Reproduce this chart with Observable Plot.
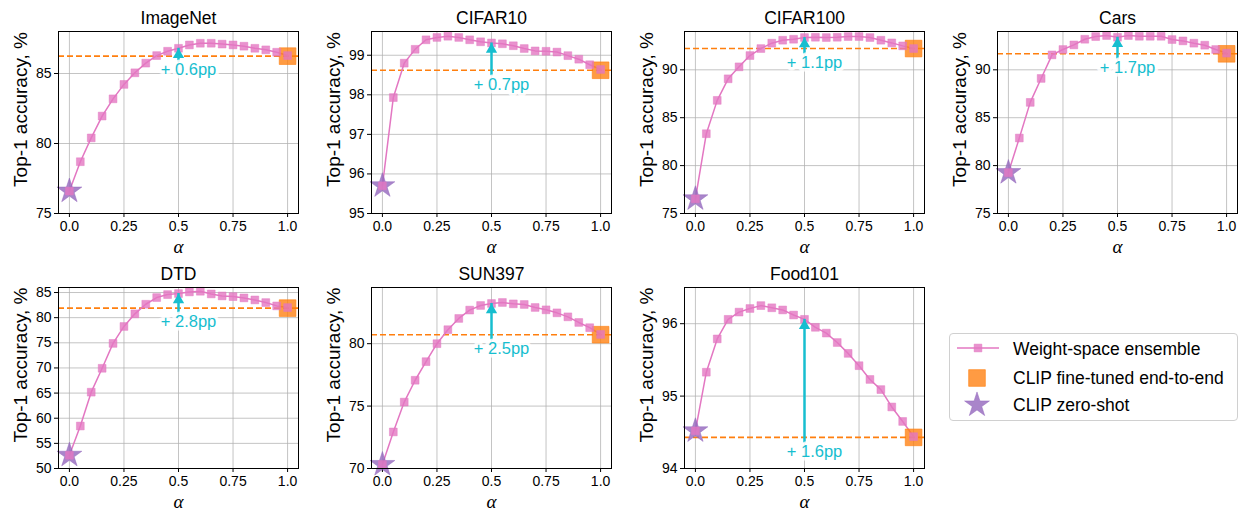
<!DOCTYPE html>
<html>
<head>
<meta charset="utf-8">
<script src="https://cdn.jsdelivr.net/npm/d3@7"></script>
<script src="https://cdn.jsdelivr.net/npm/@observablehq/plot@0.6"></script>
<style>
  body { margin: 0; background: #fff; }
  #root { position: relative; width: 1244px; height: 512px; overflow: hidden; background: #fff;
          font-family: "Liberation Sans", Arial, sans-serif; }
  .panel { position: absolute; }
  #legend { position: absolute; left: 949px; top: 333px; width: 289px; height: 88px;
            border: 1px solid #d0d0d0; border-radius: 4px; background: #fff; box-sizing: border-box; }
</style>
</head>
<body>
<div id="root"></div>
<script>
// ---------------- data ----------------
const alphas = [0, 0.05, 0.1, 0.15, 0.2, 0.25, 0.3, 0.35, 0.4, 0.45, 0.5,
                0.55, 0.6, 0.65, 0.7, 0.75, 0.8, 0.85, 0.9, 0.95, 1.0];

const datasetNames = ["ImageNet", "CIFAR10", "CIFAR100", "Cars", "DTD", "SUN397", "Food101"];

const accImageNet = [76.6, 78.7, 80.4, 81.96, 83.19, 84.22, 85.05, 85.74, 86.28, 86.59, 86.8,
                     87.04, 87.16, 87.16, 87.1, 87.04, 86.95, 86.8, 86.69, 86.52, 86.28];
const accCIFAR10  = [95.7, 97.93, 98.8, 99.15, 99.39, 99.45, 99.48, 99.45, 99.39, 99.34, 99.31,
                     99.29, 99.24, 99.17, 99.11, 99.1, 99.08, 98.99, 98.9, 98.76, 98.64];
const accCIFAR100 = [76.53, 83.33, 86.81, 89.06, 90.31, 91.49, 92.22, 92.78, 93.09, 93.19, 93.37,
                     93.4, 93.37, 93.4, 93.47, 93.47, 93.37, 93.09, 92.81, 92.5, 92.22];
const accCars     = [79.27, 82.88, 86.6, 89.1, 91.56, 92.12, 92.6, 93.19, 93.47, 93.58, 93.4,
                     93.58, 93.5, 93.5, 93.5, 93.16, 93.02, 92.78, 92.57, 92.12, 91.74];
const accDTD      = [52.63, 58.45, 65.18, 69.93, 74.88, 78.25, 80.76, 82.67, 84.0, 84.59, 84.79,
                     85.12, 85.25, 84.72, 84.32, 84.19, 83.93, 83.53, 83.0, 82.34, 82.01];
const accSUN397   = [70.32, 72.93, 75.32, 77.07, 78.56, 80.0, 81.12, 82.02, 82.69, 83.06, 83.22,
                     83.3, 83.19, 83.14, 82.9, 82.71, 82.47, 82.15, 81.7, 81.28, 80.74];
const accFood101  = [94.52, 95.33, 95.79, 96.06, 96.16, 96.21, 96.25, 96.22, 96.19, 96.12, 96.06,
                     95.95, 95.87, 95.74, 95.59, 95.42, 95.23, 95.09, 94.85, 94.65, 94.44];

const ensembleSeries = [accImageNet, accCIFAR10, accCIFAR100, accCars, accDTD, accSUN397, accFood101];

const finetunedAcc = [86.24, 98.62, 92.22, 91.67, 81.9, 80.72, 94.43];
const zeroshotAcc  = [76.6, 95.7, 76.53, 79.27, 52.63, 70.32, 94.52];
const gainLabels   = ["+ 0.6pp", "+ 0.7pp", "+ 1.1pp", "+ 1.7pp", "+ 2.8pp", "+ 2.5pp", "+ 1.6pp"];

const yTickValues = [
  [75, 80, 85],
  [95, 96, 97, 98, 99],
  [75, 80, 85, 90],
  [75, 80, 85, 90],
  [50, 55, 60, 65, 70, 75, 80, 85],
  [70, 75, 80],
  [94, 95, 96]
];
const yDomainMin = [75, 95, 75, 75, 50, 70, 94];
const yDomainMax = [88, 99.6, 94, 94, 86, 84.5, 96.5];

const xTickValues = [0, 0.25, 0.5, 0.75, 1.0];
const xTickLabels = ["0.0", "0.25", "0.5", "0.75", "1.0"];

const legendLabels = ["Weight-space ensemble", "CLIP fine-tuned end-to-end", "CLIP zero-shot"];
const yLabel = "Top-1 accuracy, %";
const xLabel = "α";

// ---------------- style ----------------
const PINK = "#e377c2", ORANGE = "#ff7f0e", PURPLE = "#9467bd", CYAN = "#17becf";
const FONT = "'Liberation Sans', Arial, sans-serif";
const root = document.getElementById("root");

const colLeft = [0, 313, 626, 939];
const rowTop = [0, 256];

datasetNames.forEach((name, i) => {
  const series = ensembleSeries[i];
  const rows = alphas.map((a, j) => ({alpha: a, acc: series[j]}));
  const ft = finetunedAcc[i];
  const zs = zeroshotAcc[i];
  const mid = series[alphas.indexOf(0.5)];
  const row = Math.floor(i / 4), col = i % 4;

  const chart = Plot.plot({
    width: 313,
    height: 256,
    marginLeft: 58,
    marginRight: 15,
    marginTop: 31,
    marginBottom: row === 0 ? 43 : 44,
    style: {fontFamily: FONT, fontSize: "14px", background: "white", overflow: "visible", color: "black"},
    x: {domain: [-0.05, 1.05]},
    y: {domain: [yDomainMin[i], yDomainMax[i]]},
    marks: [
      Plot.gridX(xTickValues, {stroke: "#b0b0b0", strokeOpacity: 0.75, strokeWidth: 1}),
      Plot.gridY(yTickValues[i], {stroke: "#b0b0b0", strokeOpacity: 0.75, strokeWidth: 1}),
      Plot.axisX(xTickValues, {tickFormat: (d, k) => xTickLabels[k], tickSize: 4, tickPadding: 4,
                               fontSize: 14, label: null}),
      Plot.axisY(yTickValues[i], {tickFormat: d => String(d), tickSize: 4, tickPadding: 3,
                                  fontSize: 14, label: null}),
      Plot.ruleY([ft], {stroke: ORANGE, strokeWidth: 1.6, strokeDasharray: "6,3"}),
      Plot.line(rows, {x: "alpha", y: "acc", stroke: PINK, strokeWidth: 1.5}),
      Plot.dot([{alpha: 1, acc: ft}], {x: "alpha", y: "acc", symbol: "square", r: 9.4,
               fill: ORANGE, fillOpacity: 0.78, stroke: ORANGE, strokeOpacity: 0.6, strokeWidth: 1}),
      Plot.dot([{alpha: 0, acc: zs}], {x: "alpha", y: "acc", symbol: "star", r: 7.8,
               fill: PURPLE, fillOpacity: 0.8, stroke: PURPLE, strokeOpacity: 0.5, strokeWidth: 1}),
      Plot.dot(rows, {x: "alpha", y: "acc", symbol: "square", r: 4.4,
               fill: PINK, fillOpacity: 0.8, stroke: PINK, strokeOpacity: 0.45, strokeWidth: 1}),
      Plot.ruleX([0.5], {y1: ft, y2: mid, stroke: CYAN, strokeWidth: 2.5, insetTop: 6}),
      Plot.dot([{alpha: 0.5, acc: mid}], {x: "alpha", y: "acc", symbol: "triangle", r: 4.2,
               fill: CYAN, stroke: "none", dy: 6.5}),
      Plot.text([{alpha: 0.5, acc: ft, label: gainLabels[i]}], {x: "alpha", y: "acc", text: "label",
               dy: 14, dx: 10, fill: CYAN, fontSize: 16.5, stroke: "white", strokeWidth: 7,
               strokeOpacity: 0.85, textAnchor: "middle", lineAnchor: "middle"}),
      Plot.frame({stroke: "black", strokeWidth: 1}),
      Plot.text([name], {frameAnchor: "top", dy: -13, fontSize: 17.5, fill: "black",
               lineAnchor: "middle", textAnchor: "middle"}),
      Plot.text([yLabel], {frameAnchor: "left", rotate: -90, dx: -38, dy: -13, fontSize: 19,
               fill: "black", textAnchor: "middle", lineAnchor: "middle"}),
      Plot.text([xLabel], {frameAnchor: "bottom", dy: 33, fontSize: 19, fontStyle: "italic",
               fontFamily: "'Liberation Serif', serif", fill: "black", lineAnchor: "middle",
               textAnchor: "middle"})
    ]
  });
  chart.classList.add("panel");
  chart.style.left = colLeft[col] + "px";
  chart.style.top = rowTop[row] + "px";
  root.appendChild(chart);
});

// ---------------- legend ----------------
const legend = document.createElement("div");
legend.id = "legend";
const ns = "http://www.w3.org/2000/svg";
const svg = document.createElementNS(ns, "svg");
svg.setAttribute("width", 289);
svg.setAttribute("height", 88);
const starPath = d3.symbol().type(d3.symbolStar).size(Math.PI * 7.8 * 7.8)();
const squareBig = d3.symbol().type(d3.symbolSquare).size(Math.PI * 9.4 * 9.4)();
const squareSmall = d3.symbol().type(d3.symbolSquare).size(Math.PI * 4.4 * 4.4)();
svg.innerHTML = `
  <line x1="7" x2="49" y1="14" y2="14" stroke="${PINK}" stroke-width="1.5"/>
  <path d="${squareSmall}" transform="translate(28,14)" fill="${PINK}" fill-opacity="0.8" stroke="${PINK}" stroke-opacity="0.45"/>
  <path d="${squareBig}" transform="translate(27,44)" fill="${ORANGE}" fill-opacity="0.78" stroke="${ORANGE}" stroke-opacity="0.6"/>
  <path d="${starPath}" transform="translate(27,71)" fill="${PURPLE}" fill-opacity="0.8" stroke="${PURPLE}" stroke-opacity="0.5"/>
  ${legendLabels.map((t, k) => `<text x="63" y="${[15, 44, 71][k]}" dy="0.35em" font-size="17.5" font-family="${FONT.replace(/'/g, '&quot;')}" fill="black">${t}</text>`).join("")}
`;
legend.appendChild(svg);
root.appendChild(legend);
</script>
</body>
</html>
